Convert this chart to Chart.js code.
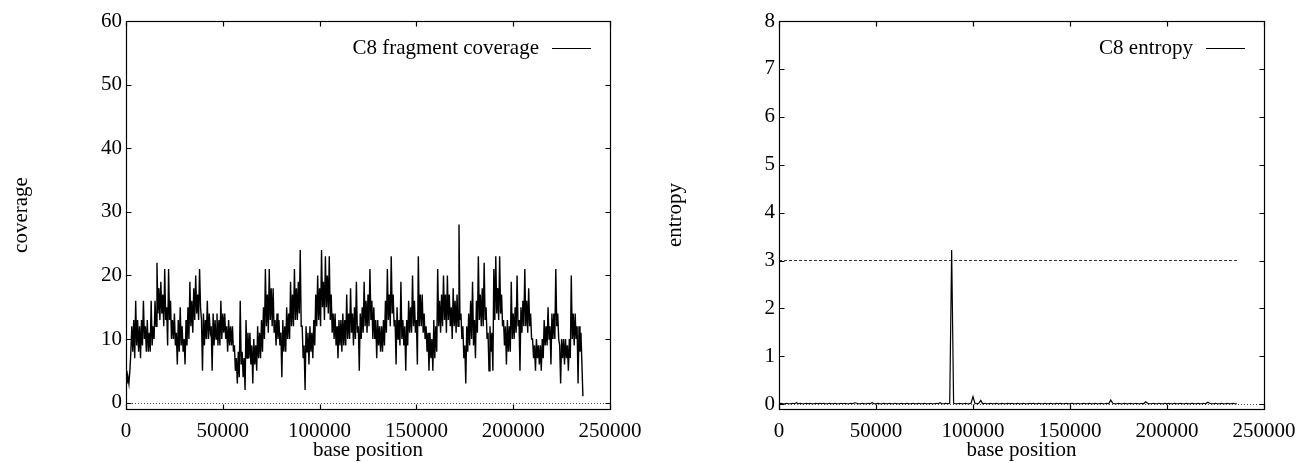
<!DOCTYPE html>
<html>
<head>
<meta charset="utf-8">
<title>C8 coverage and entropy</title>
<script src="https://cdn.jsdelivr.net/npm/chart.js@4.4.0/dist/chart.umd.min.js"></script>
<style>
  body { margin: 0; background: #fff; }
  .box { position: absolute; top: 0; height: 463px; }
  #left { left: 0; width: 648px; }
  #right { left: 648px; width: 649px; }
</style>
</head>
<body>
<div class="box" id="left"><canvas id="coverage-chart" width="648" height="463"></canvas></div>
<div class="box" id="right"><canvas id="entropy-chart" width="649" height="463"></canvas></div>
<script>
// window sizes of the data, in bases
const coverageBin = 500;
const entropyBin = 1000;

// C8 fragment coverage per 500 bp window
const coverage = [
  5, 3, 4, 3, 5, 8, 12, 8, 13, 7, 16, 9, 13, 8, 12, 7, 13, 9, 16, 10,
  12, 8, 13, 8, 11, 8, 16, 9, 12, 10, 16, 12, 22, 14, 18, 13, 19, 14, 17, 12,
  21, 13, 15, 9, 21, 13, 16, 10, 13, 10, 14, 9, 11, 6, 13, 8, 15, 9, 12, 8,
  10, 6, 13, 9, 15, 10, 19, 12, 16, 11, 18, 13, 20, 14, 17, 13, 21, 15, 13, 5,
  14, 9, 13, 10, 16, 10, 14, 11, 12, 5, 14, 9, 13, 10, 14, 9, 13, 9, 16, 10,
  14, 11, 14, 10, 12, 8, 13, 9, 12, 9, 12, 8, 9, 5, 7, 3, 8, 4, 16, 6,
  8, 4, 7, 2, 13, 7, 11, 7, 11, 6, 9, 3, 10, 6, 9, 5, 12, 7, 11, 7,
  13, 8, 15, 10, 21, 12, 17, 11, 21, 13, 18, 12, 18, 11, 13, 9, 14, 10, 13, 9,
  11, 4, 13, 8, 12, 8, 15, 10, 14, 10, 19, 12, 17, 12, 21, 13, 18, 13, 19, 14,
  24, 12, 12, 7, 9, 2, 12, 8, 11, 6, 12, 8, 11, 7, 13, 9, 17, 12, 20, 13,
  18, 12, 24, 15, 19, 13, 23, 15, 20, 14, 23, 13, 17, 11, 14, 10, 14, 9, 12, 7,
  13, 9, 13, 8, 14, 9, 13, 9, 17, 10, 14, 10, 18, 11, 14, 9, 15, 10, 19, 11,
  12, 5, 14, 10, 15, 11, 19, 12, 16, 11, 17, 12, 21, 13, 16, 10, 15, 10, 13, 7,
  13, 9, 12, 8, 12, 8, 13, 9, 16, 11, 21, 13, 17, 12, 23, 14, 17, 12, 13, 6,
  15, 10, 13, 9, 19, 10, 13, 9, 12, 5, 13, 9, 16, 11, 15, 11, 20, 12, 16, 11,
  13, 6, 23, 12, 17, 12, 17, 11, 14, 10, 12, 8, 11, 5, 11, 7, 10, 5, 13, 7,
  12, 8, 21, 12, 16, 11, 17, 12, 20, 13, 17, 11, 20, 13, 17, 12, 15, 10, 18, 12,
  16, 11, 17, 12, 28, 13, 14, 10, 12, 7, 9, 3, 12, 8, 14, 9, 16, 10, 19, 9,
  13, 7, 16, 11, 23, 13, 17, 12, 18, 12, 22, 13, 15, 10, 11, 5, 12, 8, 11, 5,
  21, 13, 23, 14, 18, 13, 23, 14, 17, 12, 13, 9, 12, 6, 13, 8, 12, 8, 19, 10,
  14, 10, 15, 11, 20, 12, 13, 5, 15, 11, 16, 12, 21, 12, 16, 11, 18, 12, 14, 10,
  10, 7, 9, 5, 10, 7, 9, 6, 9, 5, 10, 7, 13, 9, 12, 9, 15, 10, 12, 6,
  14, 10, 14, 10, 21, 12, 14, 10, 9, 3, 10, 7, 10, 6, 10, 7, 9, 5, 10, 7,
  20, 10, 14, 9, 14, 10, 12, 3, 12, 8, 11, 6, 1
];

// C8 entropy per 1000 bp window
const entropy = [
  0.01, 0.02, 0.01, 0.01, 0.02, 0.01, 0.01, 0.02, 0.01, 0.03,
  0.01, 0.02, 0.01, 0.01, 0.02, 0.01, 0.02, 0.01, 0.01, 0.02,
  0.01, 0.02, 0.01, 0.02, 0.01, 0.01, 0.02, 0.01, 0.01, 0.02,
  0.01, 0.01, 0.02, 0.01, 0.02, 0.01, 0.01, 0.02, 0.01, 0.03,
  0.02, 0.01, 0.01, 0.02, 0.01, 0.01, 0.02, 0.01, 0.03, 0.01,
  0.01, 0.02, 0.01, 0.01, 0.02, 0.01, 0.01, 0.02, 0.01, 0.01,
  0.02, 0.01, 0.01, 0.02, 0.01, 0.01, 0.02, 0.01, 0.01, 0.02,
  0.01, 0.01, 0.02, 0.01, 0.01, 0.02, 0.01, 0.01, 0.02, 0.01,
  0.01, 0.02, 0.01, 0.03, 0.01, 0.01, 0.02, 0.01, 0.02, 3.22,
  0.02, 0.01, 0.01, 0.02, 0.01, 0.01, 0.02, 0.01, 0.01, 0.02,
  0.16, 0.02, 0.01, 0.02, 0.08, 0.01, 0.02, 0.01, 0.01, 0.02,
  0.01, 0.01, 0.02, 0.01, 0.01, 0.02, 0.01, 0.01, 0.02, 0.01,
  0.02, 0.01, 0.01, 0.02, 0.01, 0.01, 0.02, 0.01, 0.01, 0.02,
  0.01, 0.02, 0.01, 0.01, 0.02, 0.01, 0.01, 0.02, 0.01, 0.01,
  0.02, 0.01, 0.01, 0.02, 0.01, 0.02, 0.01, 0.01, 0.02, 0.01,
  0.01, 0.02, 0.01, 0.01, 0.02, 0.01, 0.01, 0.02, 0.01, 0.01,
  0.02, 0.01, 0.01, 0.02, 0.01, 0.01, 0.02, 0.01, 0.01, 0.02,
  0.01, 0.09, 0.02, 0.01, 0.01, 0.02, 0.01, 0.01, 0.02, 0.01,
  0.01, 0.02, 0.01, 0.01, 0.02, 0.01, 0.01, 0.02, 0.01, 0.05,
  0.02, 0.01, 0.01, 0.02, 0.01, 0.01, 0.02, 0.01, 0.01, 0.02,
  0.01, 0.02, 0.01, 0.01, 0.02, 0.01, 0.01, 0.02, 0.01, 0.01,
  0.02, 0.01, 0.01, 0.02, 0.01, 0.01, 0.02, 0.01, 0.01, 0.02,
  0.01, 0.04, 0.02, 0.01, 0.01, 0.02, 0.01, 0.01, 0.02, 0.01,
  0.01, 0.02, 0.01, 0.01, 0.02, 0.01, 0.01
];

// entropy cutoff drawn as a dashed line
const entropyThreshold = 3;
const thresholdStart = 0;
const thresholdEnd = 236000;

// axis ticks
const xTicks = [0, 50000, 100000, 150000, 200000, 250000];
const coverageTicks = [0, 10, 20, 30, 40, 50, 60];
const entropyTicks = [0, 1, 2, 3, 4, 5, 6, 7, 8];

const serif = '"Liberation Serif", "Times New Roman", serif';

function toPoints(values, bin) {
  return values.map((v, i) => ({ x: i * bin, y: v }));
}

// gnuplot look: zero axis, box frame, inward ticks on all sides, key at top right
const gnuplotFrame = {
  id: 'gnuplotFrame',
  beforeDatasetsDraw(chart) {
    const { ctx, chartArea: a, scales: { y } } = chart;
    const y0 = Math.round(y.getPixelForValue(0)) + 0.5;
    ctx.save();
    ctx.strokeStyle = '#555';
    ctx.lineWidth = 1;
    ctx.setLineDash([1, 2]);
    ctx.beginPath();
    ctx.moveTo(a.left, y0);
    ctx.lineTo(a.right, y0);
    ctx.stroke();
    ctx.restore();
  },
  afterDatasetsDraw(chart) {
    const { ctx, chartArea: a, scales: { x, y } } = chart;
    const L = Math.round(a.left) + 0.5, R = Math.round(a.right) + 0.5;
    const T = Math.round(a.top) + 0.5, B = Math.round(a.bottom) + 0.5;
    const len = 5;
    ctx.save();
    ctx.strokeStyle = '#000';
    ctx.lineWidth = 1.2;
    ctx.strokeRect(L, T, R - L, B - T);
    ctx.beginPath();
    x.ticks.forEach(t => {
      const px = Math.round(x.getPixelForValue(t.value)) + 0.5;
      ctx.moveTo(px, B); ctx.lineTo(px, B - len);
      ctx.moveTo(px, T); ctx.lineTo(px, T + len);
    });
    y.ticks.forEach(t => {
      const py = Math.round(y.getPixelForValue(t.value)) + 0.5;
      ctx.moveTo(L, py); ctx.lineTo(L + len, py);
      ctx.moveTo(R, py); ctx.lineTo(R - len, py);
    });
    ctx.stroke();

    // key
    const ds = chart.data.datasets[0];
    const ky = Math.round(a.top + 27) + 0.5;
    ctx.font = '21px ' + serif;
    ctx.fillStyle = '#000';
    ctx.textAlign = 'right';
    ctx.textBaseline = 'middle';
    ctx.fillText(ds.label, a.right - 71, ky);
    ctx.lineWidth = 1;
    ctx.beginPath();
    ctx.moveTo(a.right - 58, ky);
    ctx.lineTo(a.right - 19, ky);
    ctx.stroke();
    ctx.restore();
  }
};

function makeOptions(yMin, yMax, yTicks, yTitle, yWidth, titlePad, padRight) {
  return {
    responsive: false,
    animation: false,
    layout: { padding: { top: 21, right: padRight, bottom: 0, left: 0 } },
    plugins: { legend: { display: false }, tooltip: { enabled: false } },
    scales: {
      x: {
        type: 'linear',
        min: 0,
        max: 250000,
        grid: { display: false, drawTicks: false },
        border: { display: false },
        afterBuildTicks: s => { s.ticks = xTicks.map(v => ({ value: v })); },
        afterFit: s => { s.height = 54; s.paddingLeft = 0; s.paddingRight = 0; },
        ticks: {
          autoSkip: false,
          maxRotation: 0,
          padding: 10,
          color: '#000',
          font: { family: serif, size: 21 },
          callback: v => String(v)
        },
        title: {
          display: true,
          text: 'base position',
          color: '#000',
          font: { family: serif, size: 21 },
          padding: { top: 0, bottom: 0 }
        }
      },
      y: {
        type: 'linear',
        min: yMin,
        max: yMax,
        grid: { display: false, drawTicks: false },
        border: { display: false },
        afterBuildTicks: s => { s.ticks = yTicks.map(v => ({ value: v })); },
        afterFit: s => { s.width = yWidth; },
        ticks: {
          padding: 4,
          color: '#000',
          font: { family: serif, size: 21 },
          callback: v => String(v)
        },
        title: {
          display: true,
          text: yTitle,
          color: '#000',
          font: { family: serif, size: 21 },
          padding: { top: titlePad, bottom: 0 }
        }
      }
    }
  };
}

new Chart(document.getElementById('coverage-chart'), {
  type: 'line',
  data: {
    datasets: [{
      label: 'C8 fragment coverage',
      data: toPoints(coverage, coverageBin),
      borderColor: '#000',
      borderWidth: 1.4,
      pointRadius: 0,
      tension: 0
    }]
  },
  options: makeOptions(-1, 60, coverageTicks, 'coverage', 126, 8.4, 38),
  plugins: [gnuplotFrame]
});

new Chart(document.getElementById('entropy-chart'), {
  type: 'line',
  data: {
    datasets: [{
      label: 'C8 entropy',
      data: toPoints(entropy, entropyBin),
      borderColor: '#000',
      borderWidth: 1.2,
      pointRadius: 0,
      tension: 0
    }, {
      label: 'threshold',
      data: [{ x: thresholdStart, y: entropyThreshold }, { x: thresholdEnd, y: entropyThreshold }],
      borderColor: '#333',
      borderWidth: 1,
      borderDash: [3, 2],
      pointRadius: 0
    }]
  },
  options: makeOptions(-0.1, 8, entropyTicks, 'entropy', 131, 14.4, 33),
  plugins: [gnuplotFrame]
});
</script>
</body>
</html>
